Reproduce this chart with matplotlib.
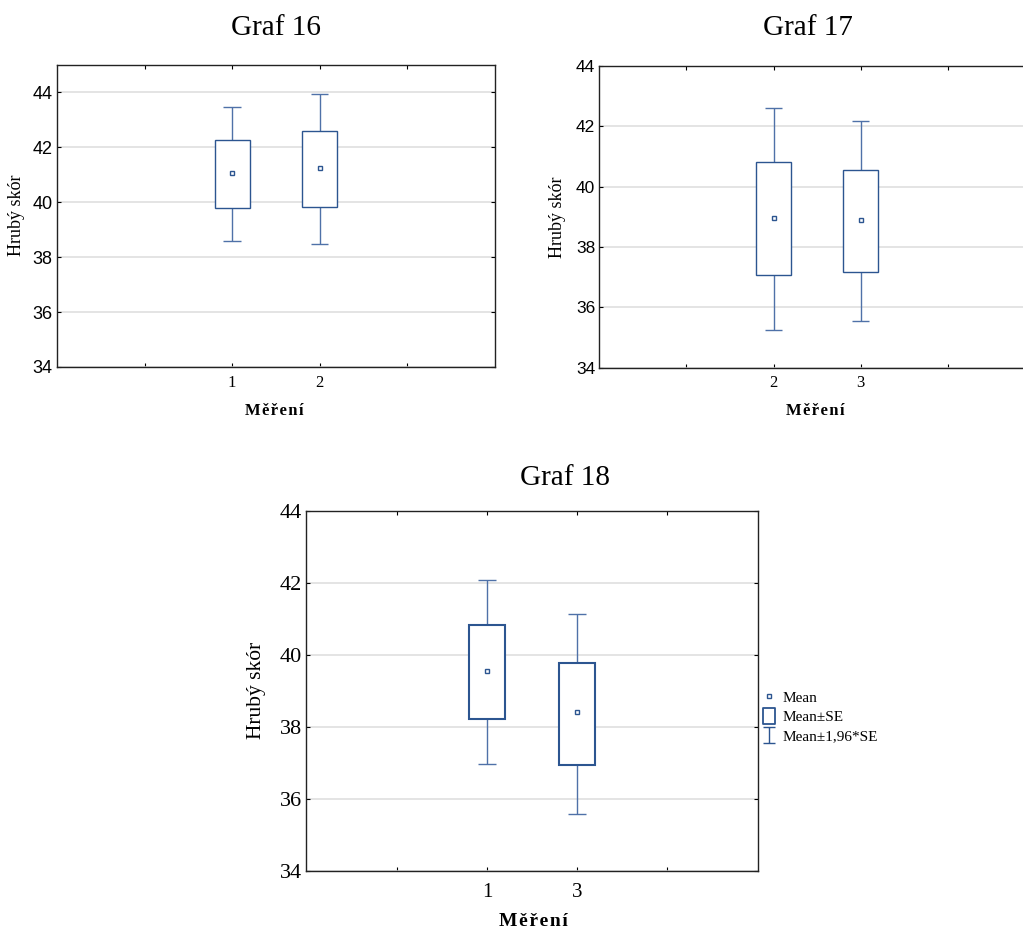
import matplotlib.pyplot as plt
from matplotlib.lines import Line2D
from matplotlib.path import Path

W, H = 1023, 932

# Graf 16 - mereni 1 a 2
g16_labels = ['1', '2']
g16_mean = [41.06, 41.24]
g16_se_lo = [39.78, 39.81]
g16_se_hi = [42.27, 42.61]
g16_ci_lo = [38.60, 38.48]
g16_ci_hi = [43.46, 43.96]

# Graf 17 - mereni 2 a 3
g17_labels = ['2', '3']
g17_mean = [38.95, 38.90]
g17_se_lo = [37.06, 37.17]
g17_se_hi = [40.80, 40.55]
g17_ci_lo = [35.26, 35.56]
g17_ci_hi = [42.60, 42.16]

# Graf 18 - mereni 1 a 3
g18_labels = ['1', '3']
g18_mean = [39.54, 38.40]
g18_se_lo = [38.21, 36.94]
g18_se_hi = [40.81, 39.78]
g18_ci_lo = [36.96, 35.57]
g18_ci_hi = [42.06, 41.14]

BOX = '#2c5590'
WHISK = '#4f71a8'
SERIF = ['Liberation Serif', 'DejaVu Serif']
SANS = ['Liberation Sans', 'DejaVu Sans']


def fx(x):
    return x / W


def fy(y):
    return 1 - y / H


def rect(x0, y0, x1, y1):
    return [x0 / W, 1 - y1 / H, (x1 - x0) / W, (y1 - y0) / H]


def boxplot(ax, labels, mean, se_lo, se_hi, ci_lo, ci_hi, ymax, lw, ysize, yfam, xsize, xpad):
    pos = [2, 3]
    ax.set_xlim(0, 5)
    ax.set_ylim(34, ymax)
    ax.set_yticks(range(34, 45, 2))
    ax.set_xticks([1, 2, 3, 4])
    ax.set_xticklabels(['', labels[0], labels[1], ''])
    ax.yaxis.grid(True, color='#dcdcdc', lw=1.1)
    ax.set_axisbelow(True)

    ax.vlines(pos, se_hi, ci_hi, color=WHISK, lw=1.0, zorder=2)
    ax.vlines(pos, ci_lo, se_lo, color=WHISK, lw=1.0, zorder=2)
    left = [p - 0.1 for p in pos]
    right = [p + 0.1 for p in pos]
    ax.hlines(ci_hi, left, right, color=WHISK, lw=1.0, zorder=2)
    ax.hlines(ci_lo, left, right, color=WHISK, lw=1.0, zorder=2)
    heights = [h - l for h, l in zip(se_hi, se_lo)]
    ax.bar(pos, heights, bottom=se_lo, width=0.4, facecolor='white',
           edgecolor=BOX, lw=lw, zorder=3)
    ax.plot(pos, mean, 's', ms=3, mfc='white', mec=BOX, mew=1.0, zorder=4)

    ax.tick_params(direction='in', length=3, width=0.8, top=True, right=True)
    ax.tick_params(axis='y', pad=3, labelsize=ysize)
    ax.tick_params(axis='x', pad=xpad, labelsize=xsize)
    for t in ax.get_yticklabels():
        t.set_fontfamily(yfam)
    for t in ax.get_xticklabels():
        t.set_fontfamily(SERIF)
    for s in ax.spines.values():
        s.set_color('#222222')
        s.set_linewidth(1.0)


fig = plt.figure(figsize=(W / 100, H / 100), dpi=100)

ax1 = fig.add_axes(rect(57, 65, 494.7, 367))
boxplot(ax1, g16_labels, g16_mean, g16_se_lo, g16_se_hi, g16_ci_lo, g16_ci_hi,
        45, 1.0, 13, SANS, 12, 5.5)

ax2 = fig.add_axes(rect(599.3, 65.7, 1035, 367.7))
boxplot(ax2, g17_labels, g17_mean, g17_se_lo, g17_se_hi, g17_ci_lo, g17_ci_hi,
        44, 1.0, 12.5, SANS, 12, 5.5)

ax3 = fig.add_axes(rect(306.3, 510.5, 757.7, 870.7))
boxplot(ax3, g18_labels, g18_mean, g18_se_lo, g18_se_hi, g18_ci_lo, g18_ci_hi,
        44, 1.5, 16, SERIF, 15, 9)

# titulky a popisky os
fig.text(fx(276), fy(28), 'Graf 16', ha='center', va='center', family=SERIF, size=21)
fig.text(fx(807.5), fy(28), 'Graf 17', ha='center', va='center', family=SERIF, size=21)
fig.text(fx(565.5), fy(478), 'Graf 18', ha='center', va='center', family=SERIF, size=21)

mereni = '\u200a'.join('Měření')
fig.text(fx(274.5), fy(411), mereni, ha='center', va='center', family=SERIF,
         size=12, weight='bold')
fig.text(fx(815.8), fy(411), mereni, ha='center', va='center', family=SERIF,
         size=12, weight='bold')
fig.text(fx(533), fy(922), mereni, ha='center', va='center', family=SERIF,
         size=14, weight='bold')

fig.text(fx(16.5), fy(215), 'Hrubý skór', ha='center', va='center', rotation=90,
         family=SERIF, size=13)
fig.text(fx(557), fy(217), 'Hrubý skór', ha='center', va='center', rotation=90,
         family=SERIF, size=13)
fig.text(fx(257), fy(690), 'Hrubý skór', ha='center', va='center', rotation=90,
         family=SERIF, size=15.5)

# legenda
box_path = Path([(-0.4, -0.5), (0.4, -0.5), (0.4, 0.5), (-0.4, 0.5), (-0.4, -0.5)],
                [Path.MOVETO, Path.LINETO, Path.LINETO, Path.LINETO, Path.CLOSEPOLY])
whisk_path = Path([(-0.4, 0.5), (0.4, 0.5), (0, 0.5), (0, -0.5), (-0.4, -0.5), (0.4, -0.5)],
                  [Path.MOVETO, Path.LINETO, Path.MOVETO, Path.LINETO, Path.MOVETO, Path.LINETO])
handles = [
    Line2D([], [], ls='none', marker='s', ms=3, mfc='white', mec=BOX, mew=1.0),
    Line2D([], [], ls='none', marker=box_path, ms=11.5, mfc='white', mec=BOX, mew=1.3),
    Line2D([], [], ls='none', marker=whisk_path, ms=11, mfc='none', mec=BOX, mew=1.0),
]
labels = ['Mean', 'Mean±SE', 'Mean±1,96*SE']
fig.legend(handles, labels, loc='center left', bbox_to_anchor=(fx(761.4), fy(717)),
           frameon=False, handlelength=1.0, handletextpad=0.4, labelspacing=0.35,
           borderpad=0, borderaxespad=0, prop={'family': SERIF, 'size': 11})

fig.savefig('out.png', dpi=100)
